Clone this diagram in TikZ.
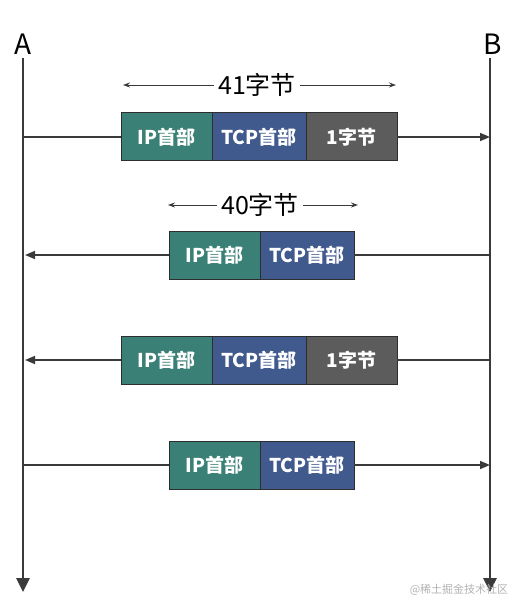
\documentclass[tikz,border=0pt]{standalone}
\usepackage{fontspec}
\setmainfont{Noto Sans CJK SC}
\usetikzlibrary{positioning, arrows.meta}
\definecolor{ipcol}{HTML}{3A8076}
\definecolor{tcpcol}{HTML}{405A8E}
\definecolor{datacol}{HTML}{5C5C5C}
\definecolor{linecol}{HTML}{3A3A3A}
\tikzset{seg/.style={draw=linecol!80!black, line width=1pt, minimum height=48pt, inner sep=0pt, outer sep=0pt, text=white, font=\fontsize{19}{19}\selectfont\bfseries},
ip seg/.style={seg, fill=ipcol, minimum width=91pt},
tcp seg/.style={seg, fill=tcpcol, minimum width=94pt},
data seg/.style={seg, fill=datacol, minimum width=91pt},
host/.style={font=\fontsize{28}{28}\selectfont},
len/.style={fill=white, inner sep=4pt, font=\fontsize{25}{25}\selectfont},
msg/.style={draw=linecol, line width=1.6pt, -{Triangle[length=10pt,width=8pt]}},
life/.style={draw=linecol, line width=2.8pt, -{Triangle[length=14pt,width=13pt]}},
size/.style={draw=linecol, line width=0.9pt, {Stealth[length=7pt,width=5pt]}-{Stealth[length=7pt,width=5pt]}},}

\begin{document}
\begin{tikzpicture}[x=1pt, y=-1pt]
			\useasboundingbox (0,0) rectangle (530,612);
			% Hosts
			\node[host] (A) at (23,44) {A};
			\node[host] (B) at (493,44) {B};
			\coordinate (Atop) at (23,58);
			\coordinate (Abot) at (23,592);
			\coordinate (Btop) at (490,58);
			\coordinate (Bbot) at (490,592);
			\path[life] (Atop) -- (Abot);
			\path[life] (Btop) -- (Bbot);
			% Segment 1: A -> B, 41 bytes
			\node[ip seg, anchor=west] (ip1) at (121,137) {IP首部};
			\node[tcp seg] [right = 0pt of ip1] (tcp1) {TCP首部};
			\node[data seg] [right = 0pt of tcp1] (data1) {1字节};
			\coordinate (len1l) at (123,85);
			\coordinate (len1r) at (396,85);
			\draw[size] (len1l) -- (len1r);
			\node[len] (len1) at (257,85) {41字节};
			\coordinate (a1) at (23,137);
			\coordinate (b1) at (490,137);
			\draw[msg, -] (a1) -- (ip1.west);
			\draw[msg] (data1.east) -- (b1);
			% Segment 2: B -> A, 40 bytes
			\node[ip seg, anchor=west] (ip2) at (169,255) {IP首部};
			\node[tcp seg] [right = 0pt of ip2] (tcp2) {TCP首部};
			\coordinate (len2l) at (168,205);
			\coordinate (len2r) at (358,205);
			\draw[size] (len2l) -- (len2r);
			\node[len] (len2) at (260,205) {40字节};
			\coordinate (a2) at (25,255);
			\coordinate (b2) at (490,255);
			\draw[msg, -] (b2) -- (tcp2.east);
			\draw[msg] (ip2.west) -- (a2);
			% Segment 3: B -> A, 41 bytes
			\node[ip seg, anchor=west] (ip3) at (121,360) {IP首部};
			\node[tcp seg] [right = 0pt of ip3] (tcp3) {TCP首部};
			\node[data seg] [right = 0pt of tcp3] (data3) {1字节};
			\coordinate (a3) at (25,360);
			\coordinate (b3) at (490,360);
			\draw[msg, -] (b3) -- (data3.east);
			\draw[msg] (ip3.west) -- (a3);
			% Segment 4: A -> B, 40 bytes
			\node[ip seg, anchor=west] (ip4) at (169,465) {IP首部};
			\node[tcp seg] [right = 0pt of ip4] (tcp4) {TCP首部};
			\coordinate (a4) at (23,465);
			\coordinate (b4) at (490,465);
			\draw[msg, -] (a4) -- (ip4.west);
			\draw[msg] (tcp4.east) -- (b4);
			% Watermark
			\node[text=black!30, font=\fontsize{11}{11}\selectfont] (mark) at (459,590) {@稀土掘金技术社区};
		\end{tikzpicture}
\end{document}
